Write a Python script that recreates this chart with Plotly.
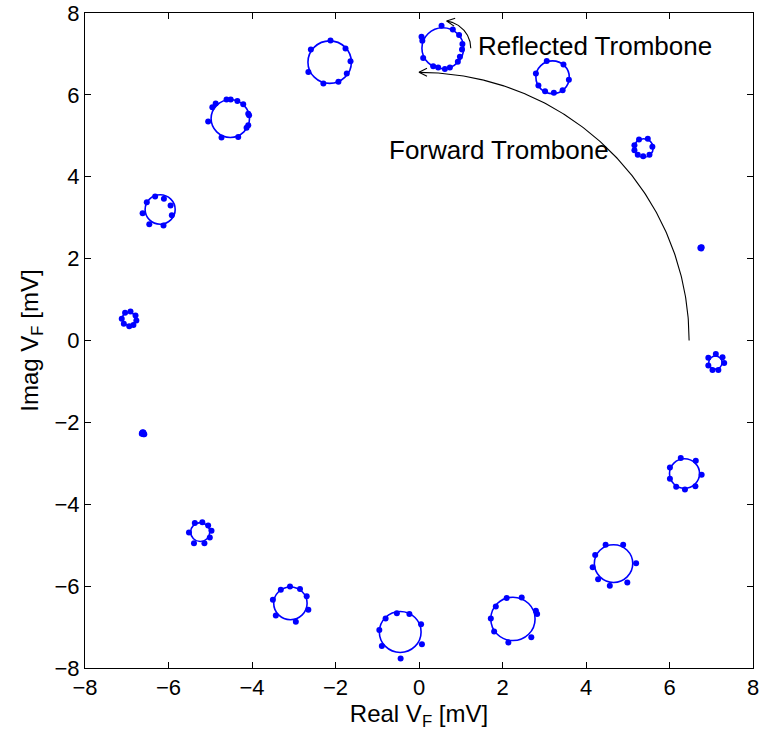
import numpy as np
import plotly.graph_objects as go

# ---- data ----
circle_cx = [0.57, 3.20, 5.38, 6.75, 7.10, 6.36, 4.66, 2.25, -0.45, -3.08, -5.24, -6.62, -6.95, -6.20, -4.52, -2.14]
circle_cy = [7.14, 6.43, 4.70, 2.27, -0.54, -3.25, -5.45, -6.80, -7.12, -6.42, -4.68, -2.27, 0.53, 3.20, 5.42, 6.80]
circle_r = [0.50, 0.40, 0.23, 0.02, 0.16, 0.36, 0.46, 0.53, 0.50, 0.40, 0.23, 0.05, 0.16, 0.36, 0.46, 0.52]

pts_x = [
    0.54, 0.81, 0.96, 1.04, 1.03, 0.98, 0.93, 0.74, 0.62, 0.46, 0.34, 0.10, 0.08, 0.06,
    3.06, 3.46, 3.59, 3.44, 3.23, 3.02, 2.86, 2.80,
    5.27, 5.48, 5.59, 5.52, 5.37, 5.24, 5.16, 5.16,
    6.75, 6.77, 6.74, 6.76,
    7.11, 7.27, 7.31, 7.17, 7.03, 6.93, 6.93,
    6.27, 6.63, 6.77, 6.62, 6.37, 6.16, 6.01, 6.01,
    4.47, 4.89, 5.20, 4.99, 4.57, 4.29, 4.16, 4.22,
    2.10, 2.46, 2.80, 2.83, 2.69, 2.14, 1.80, 1.72, 1.84,
    -0.53, -0.23, 0.05, 0.07, -0.44, -0.89, -0.95, -0.80,
    -3.31, -3.09, -2.85, -2.69, -2.65, -2.95, -3.43, -3.50,
    -5.37, -5.19, -5.05, -4.97, -5.01, -5.14, -5.39, -5.51,
    -6.60, -6.64, -6.58, -6.62, -6.60, -6.63,
    -7.04, -6.91, -6.79, -6.77, -6.84, -6.94, -7.07, -7.12,
    -6.52, -6.32, -6.11, -5.95, -5.92, -6.12, -6.46, -6.62,
    -4.95, -4.87, -4.61, -4.51, -4.35, -4.21, -4.09, -4.07, -4.09, -4.13, -4.33, -4.73, -5.05,
    -2.12, -1.76, -1.64, -1.73, -1.93, -2.29, -2.65, -2.59,
]
pts_y = [
    7.69, 7.60, 7.46, 7.24, 7.11, 6.93, 6.81, 6.67, 6.63, 6.67, 6.70, 6.90, 7.32, 7.42,
    6.83, 6.74, 6.37, 6.11, 6.05, 6.09, 6.23, 6.52,
    4.91, 4.93, 4.73, 4.54, 4.50, 4.54, 4.65, 4.77,
    2.27, 2.28, 2.26, 2.25,
    -0.33, -0.41, -0.55, -0.72, -0.72, -0.61, -0.42,
    -2.87, -2.94, -3.28, -3.56, -3.64, -3.57, -3.38, -3.10,
    -4.99, -4.99, -5.44, -5.91, -5.99, -5.83, -5.54, -5.24,
    -6.29, -6.28, -6.60, -6.68, -7.25, -7.38, -7.11, -6.79, -6.50,
    -6.66, -6.68, -6.93, -7.42, -7.77, -7.46, -7.07, -6.79,
    -6.09, -6.01, -6.07, -6.25, -6.58, -6.87, -6.72, -6.33,
    -4.46, -4.44, -4.52, -4.65, -4.81, -4.95, -4.95, -4.69,
    -2.25, -2.28, -2.29, -2.24, -2.29, -2.26,
    0.68, 0.71, 0.61, 0.49, 0.38, 0.35, 0.41, 0.53,
    3.38, 3.52, 3.46, 3.30, 3.06, 2.81, 2.84, 3.11,
    5.70, 5.79, 5.89, 5.89, 5.85, 5.77, 5.54, 5.50, 5.26, 5.20, 4.97, 4.96, 5.35,
    7.33, 7.13, 6.82, 6.52, 6.32, 6.28, 6.56, 7.11,
]

x_ticks = [-8, -6, -4, -2, 0, 2, 4, 6, 8]
y_ticks = [-8, -6, -4, -2, 0, 2, 4, 6, 8]

# Forward trombone arc (ellipse quarter) and reflected trombone arc
fwd_rx, fwd_ry = 6.47, 6.55
refl_center = (0.57, 7.14)
refl_r = 0.67
refl_ang = (0, 82)

BLUE = "#0000ff"
FONT = "Liberation Sans, Arial, Helvetica, sans-serif"

fig = go.Figure()

# fitted circles
for cx, cy, r in zip(circle_cx, circle_cy, circle_r):
    fig.add_shape(type="circle", xref="x", yref="y",
                  x0=cx - r, x1=cx + r, y0=cy - r, y1=cy + r,
                  line=dict(color=BLUE, width=1.6))

fig.add_trace(go.Scatter(x=pts_x, y=pts_y, mode="markers",
                         marker=dict(color=BLUE, size=6), hoverinfo="skip"))

# pixel scale for arrowheads (approx)
sx, sy = 41.75, 40.9


def arrowhead(tip, direction, length=8, half=4):
    dx, dy = direction[0] * sx, direction[1] * sy
    n = np.hypot(dx, dy)
    ux, uy = dx / n, dy / n
    px, py = -uy, ux
    bx, by = -ux * length, -uy * length
    w1 = (tip[0] + (bx + px * half) / sx, tip[1] + (by + py * half) / sy)
    w2 = (tip[0] + (bx - px * half) / sx, tip[1] + (by - py * half) / sy)
    return [w1[0], tip[0], w2[0]], [w1[1], tip[1], w2[1]]


t = np.linspace(0, np.pi / 2, 200)
ax_ = fwd_rx * np.cos(t)
ay_ = fwd_ry * np.sin(t)
fig.add_trace(go.Scatter(x=ax_, y=ay_, mode="lines",
                         line=dict(color="black", width=1.1), hoverinfo="skip"))
hx, hy = arrowhead((ax_[-1], ay_[-1]), (-1, 0))
fig.add_trace(go.Scatter(x=hx, y=hy, mode="lines",
                         line=dict(color="black", width=1.1), hoverinfo="skip"))

t2 = np.radians(np.linspace(refl_ang[0], refl_ang[1], 100))
rx_ = refl_center[0] + refl_r * np.cos(t2)
ry_ = refl_center[1] + refl_r * np.sin(t2)
fig.add_trace(go.Scatter(x=rx_, y=ry_, mode="lines",
                         line=dict(color="black", width=1.1), hoverinfo="skip"))
hx, hy = arrowhead((rx_[-1], ry_[-1]), (-np.sin(t2[-1]), np.cos(t2[-1])))
fig.add_trace(go.Scatter(x=hx, y=hy, mode="lines",
                         line=dict(color="black", width=1.1), hoverinfo="skip"))

fig.add_annotation(x=1.37, y=7.19, text="Reflected Trombone", showarrow=False,
                   xanchor="left", yanchor="middle",
                   font=dict(family=FONT, size=26, color="black"))
fig.add_annotation(x=-0.77, y=4.65, text="Forward Trombone", showarrow=False,
                   xanchor="left", yanchor="middle",
                   font=dict(family=FONT, size=26, color="black"))

axis_common = dict(showgrid=False, zeroline=False, showline=True, linecolor="black",
                   linewidth=1, mirror="ticks", ticks="inside", ticklen=6,
                   tickcolor="black", automargin=False, ticklabeloverflow="allow",
                   tickfont=dict(family=FONT, size=22, color="black"))

fig.update_xaxes(range=[-8, 8], tickvals=x_ticks, ticktext=[str(v).replace("-", "\u2212") for v in x_ticks],
                 title=dict(text="Real V<sub>F</sub> [mV]", font=dict(family=FONT, size=24, color="black"),
                            standoff=2),
                 **axis_common)
fig.update_yaxes(range=[-8, 8], tickvals=y_ticks, ticktext=[str(v).replace("-", "\u2212") for v in y_ticks],
                 title=dict(text="Imag V<sub>F</sub> [mV]", font=dict(family=FONT, size=24, color="black"),
                            standoff=9),
                 **axis_common)

fig.update_layout(width=759, height=743, showlegend=False,
                  margin=dict(l=85, r=6, t=13, b=75),
                  paper_bgcolor="white", plot_bgcolor="white")

fig.write_html("out.html")
